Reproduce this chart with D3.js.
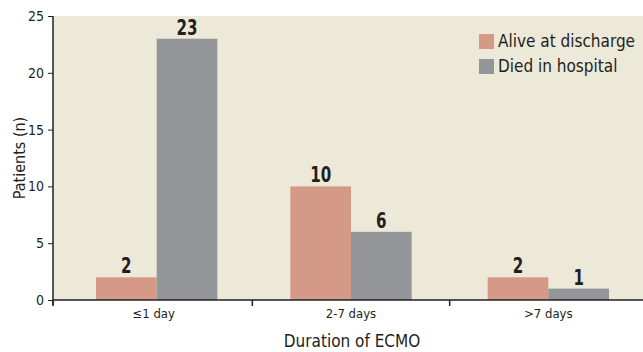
<!DOCTYPE html>
<html><head><meta charset="utf-8">
<script src="https://cdn.jsdelivr.net/npm/d3@7/dist/d3.min.js"></script>
<style>body{margin:0;background:#fff}svg{display:block}text{font-family:"Liberation Sans Narrow","DejaVu Sans Condensed","Roboto Condensed",sans-serif}</style>
</head><body><svg id="c" width="643" height="352"></svg>
<script>
const categories = ["≤1 day", "2-7 days", ">7 days"];
const seriesNames = ["Alive at discharge", "Died in hospital"];
const alive = [2, 10, 2];
const died = [23, 6, 1];
const yTicks = [0, 5, 10, 15, 20, 25];
const colors = ["#d59a87", "#939598"];

const svg = d3.select("#c");
const L = 53, R = 643, T = 16, B = 300;
const x = d3.scaleBand().domain(categories).range([55, 647]).padding(0);
const y = d3.scaleLinear().domain([0, 25]).range([B, T]);
const groupW = x.bandwidth() * 0.615;
const xs = d3.scaleBand().domain(seriesNames).range([0, groupW]).padding(0);

svg.append("rect").attr("x", L).attr("y", T).attr("width", R - L).attr("height", B - T).attr("fill", "#ece9d8");

const data = categories.map((c, i) => ({c, vals: [alive[i], died[i]]}));
const g = svg.append("g");
data.forEach((d, i) => {
  const x0 = x(d.c) + x.bandwidth() / 2 - groupW / 2 + (i === 0 ? 3 : 0);
  d.vals.forEach((v, j) => {
    const bx = x0 + xs(seriesNames[j]);
    g.append("rect").attr("x", bx).attr("y", y(v)).attr("width", xs.bandwidth()).attr("height", y(0) - y(v)).attr("fill", colors[j]);
    g.append("text").attr("transform", `translate(${bx + xs.bandwidth() / 2},${y(v) - 4}) scale(0.8,1)`).attr("text-anchor", "middle")
      .attr("font-size", 21).attr("font-weight", "bold").attr("fill", "#231f20").text(v);
  });
});

// Y axis
const ya = svg.append("g").attr("transform", `translate(${L},0)`)
  .call(d3.axisLeft(y).tickValues(yTicks).tickSize(5).tickPadding(4));
ya.select(".domain").attr("stroke", "#231f20").attr("stroke-width", 1.5).attr("d", `M0,${T}V${B + 5}`);
ya.selectAll(".tick line").attr("stroke", "#231f20");
ya.selectAll(".tick text").attr("font-size", 14).attr("fill", "#231f20");

// X axis
const xa = svg.append("g").attr("transform", `translate(0,${B})`)
  .call(d3.axisBottom(x).tickSize(0).tickPadding(9));
xa.select(".domain").attr("stroke", "#231f20").attr("stroke-width", 1.5).attr("d", `M${L},0H${R}`);
xa.selectAll(".tick text").attr("font-size", 13).attr("fill", "#231f20");
const boundaries = [x(categories[0]) - 2, x(categories[1]), x(categories[2])];
xa.selectAll(".bt").data(boundaries).join("line").attr("class", "bt")
  .attr("x1", d => d).attr("x2", d => d).attr("y1", 0).attr("y2", 6).attr("stroke", "#231f20").attr("stroke-width", 1.5);

svg.append("text").attr("x", 352).attr("y", 347).attr("text-anchor", "middle").attr("font-size", 17).attr("fill", "#231f20").text("Duration of ECMO");
svg.append("text").attr("transform", "translate(25,158) rotate(-90)").attr("text-anchor", "middle").attr("font-size", 16).attr("fill", "#231f20").text("Patients (n)");

// Legend
const lg = svg.append("g").attr("transform", "translate(479,34)");
seriesNames.forEach((n, i) => {
  lg.append("rect").attr("x", 0).attr("y", i * 25).attr("width", 15).attr("height", 15).attr("fill", colors[i]);
  lg.append("text").attr("x", 19).attr("y", i * 25 + 13).attr("font-size", 17).attr("fill", "#231f20").text(n);
});
</script></body></html>
